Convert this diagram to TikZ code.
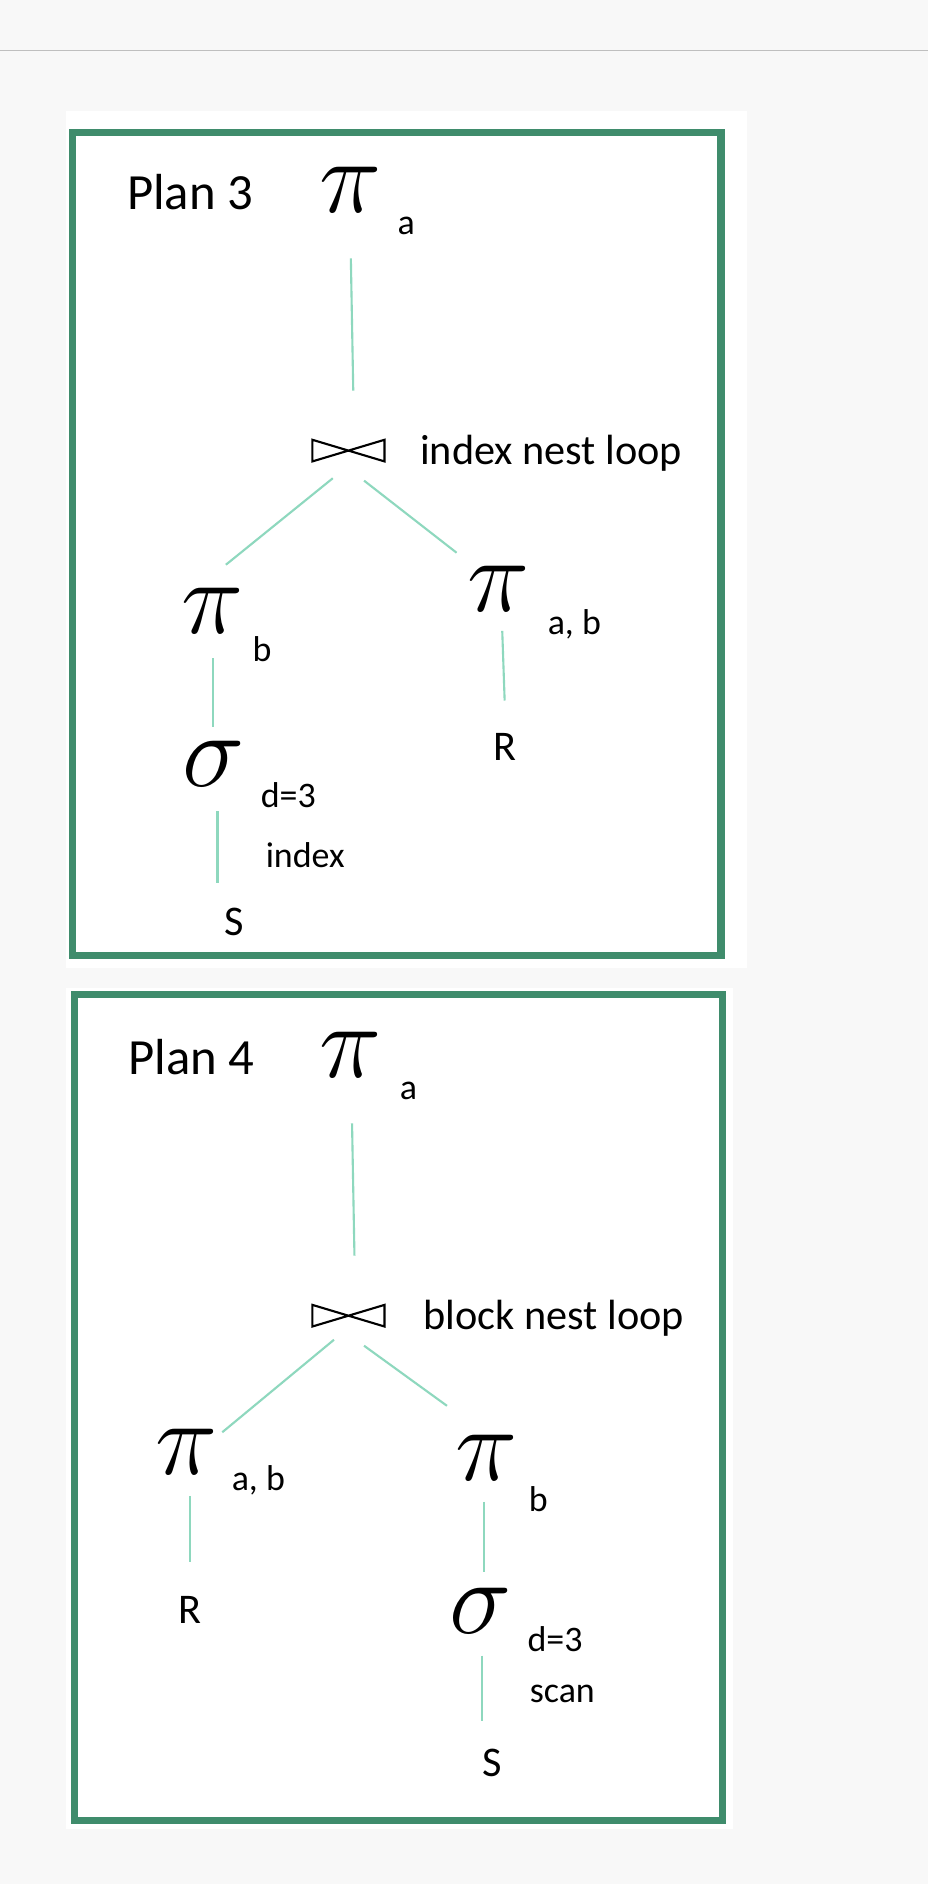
\documentclass[tikz,border=0pt]{standalone}
\usepackage{fontspec}
\setmainfont{Carlito}
\definecolor{bgc}{HTML}{F8F8F8}
\definecolor{frame}{HTML}{3F8C6C}
\definecolor{edge}{HTML}{8ED8BE}
\begin{document}
\begin{tikzpicture}[x=0.01cm,y=-0.01cm,
  lbl/.style={inner sep=0pt,font=\fontsize{10}{10}\selectfont},
  plan/.style={inner sep=0pt,anchor=west,font=\fontsize{12}{12}\selectfont},
  sub/.style={inner sep=0pt,font=\fontsize{8.5}{9}\selectfont},
  op/.style={inner sep=0pt,font=\fontsize{26}{26}\selectfont},
  con/.style={edge,line width=0.5pt},
  box/.style={frame,line width=1.7pt}]
\fill[bgc] (0,0) rectangle (772,1568);
\useasboundingbox (0,0) rectangle (772,1568);
\draw[gray!50,line width=0.4pt] (0,42) -- (772,42);
\fill[white] (55,92) rectangle (622,806);
\fill[white] (55,822) rectangle (610,1522);
\draw[box] (60,110) rectangle (600,795);
\draw[box] (62,828) rectangle (601,1515);
% Plan 3
\node[plan] (p3) at (105,160) {Plan 3};
\node[op] (pa3) at (292,158) {$\pi$};
\node[sub] (pa3s) at (338,188) {a};
\draw[black,line width=0.5pt] (260,366) -- (320,384) -- (320,366) -- (260,384) -- cycle;
\node[lbl,anchor=west] (j3l) at (349,377) {index nest loop};
\node[op] (pb3) at (177,508) {$\pi$};
\node[sub] (pb3s) at (218,540) {b};
\node[op] (pab3) at (415,490) {$\pi$};
\node[sub] (pab3s) at (478,520) {a, b};
\node[lbl] (r3) at (420,622) {R};
\node[op] (s3) at (178,636) {$\sigma$};
\node[sub] (s3s) at (240,662) {d=3};
\node[sub] (i3) at (254,712) {index};
\node[lbl] (S3) at (195,767) {S};
\draw[con] (292,215) -- (294,325);
\draw[con] (277,398) -- (188,470);
\draw[con] (303,400) -- (380,460);
\draw[con] (177,548) -- (177,605);
\draw[con] (418,525) -- (420,583);
\draw[con] (181,675) -- (181,735);
% Plan 4
\node[plan] (p4) at (106,880) {Plan 4};
\node[op] (pa4) at (292,878) {$\pi$};
\node[sub] (pa4s) at (340,908) {a};
\draw[black,line width=0.5pt] (260,1086) -- (320,1104) -- (320,1086) -- (260,1104) -- cycle;
\node[lbl,anchor=west] (j4l) at (352,1097) {block nest loop};
\node[op] (pab4) at (155,1208) {$\pi$};
\node[sub] (pab4s) at (215,1232) {a, b};
\node[op] (pb4) at (405,1213) {$\pi$};
\node[sub] (pb4s) at (448,1248) {b};
\node[lbl] (r4) at (158,1340) {R};
\node[op] (s4) at (400,1341) {$\sigma$};
\node[sub] (s4s) at (462,1364) {d=3};
\node[sub] (sc4) at (468,1410) {scan};
\node[lbl] (S4) at (410,1467) {S};
\draw[con] (293,935) -- (295,1045);
\draw[con] (278,1115) -- (185,1192);
\draw[con] (303,1120) -- (372,1170);
\draw[con] (158,1245) -- (158,1300);
\draw[con] (403,1250) -- (403,1308);
\draw[con] (401,1378) -- (401,1432);
\end{tikzpicture}
\end{document}
